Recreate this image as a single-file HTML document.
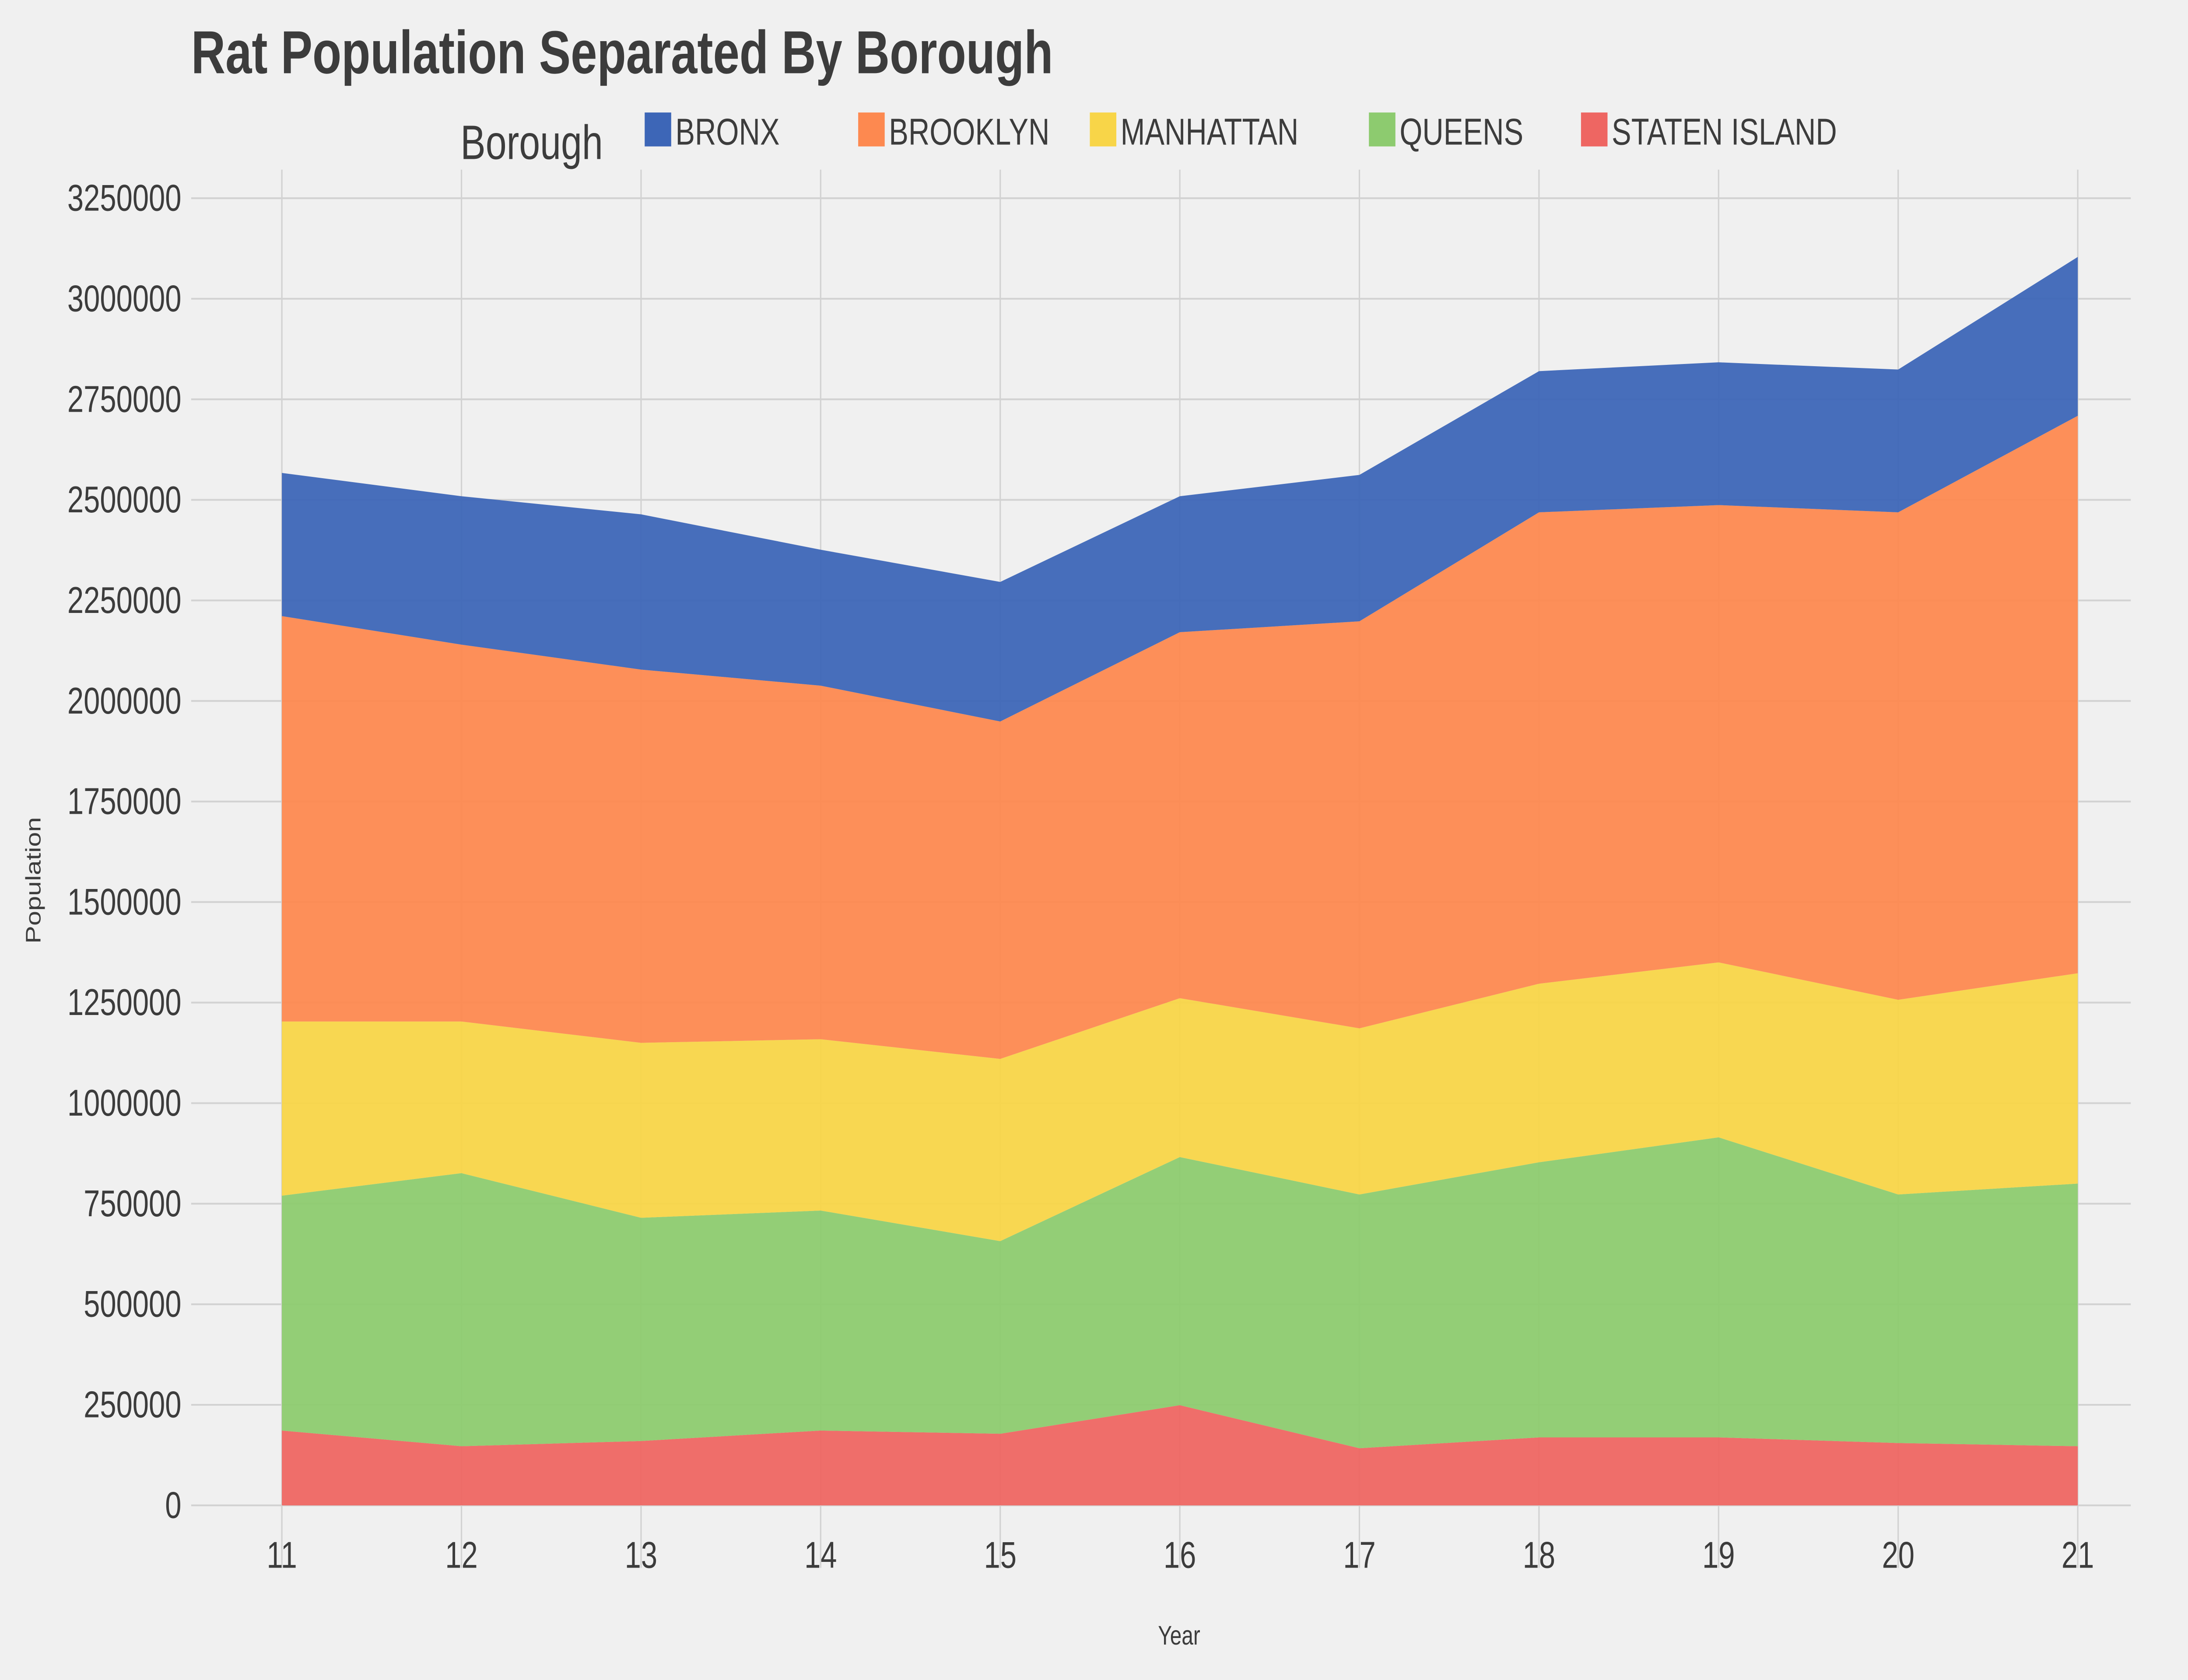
<!DOCTYPE html>
<html><head><meta charset="utf-8"><style>
html,body{margin:0;padding:0;background:#f0f0f0;width:100%;height:100%;overflow:hidden;}
svg{display:block;font-family:"Liberation Sans",Arial,sans-serif;width:100vw;height:100vh;}
</style></head><body>
<svg id="chart" viewBox="0 0 1568 940.8" preserveAspectRatio="none" xmlns="http://www.w3.org/2000/svg">
<rect x="0" y="0" width="1568" height="940.8" fill="#f0f0f0"/>
<text x="137" y="41" font-size="34" font-weight="bold" fill="#3c3c3c">Rat Population Separated By Borough</text>
<g id="legend">
<text x="330" y="89" font-size="27" fill="#3c3c3c">Borough</text>
</g>
<g id="grid"></g>
<g id="areas"></g>
<g id="axes"></g>
<text x="845" y="921" font-size="15" fill="#3c3c3c" text-anchor="middle">Year</text>
<text transform="translate(29,493) rotate(-90)" font-size="15" fill="#3c3c3c" text-anchor="middle">Population</text>
</svg>
<script>
const years = [11,12,13,14,15,16,17,18,19,20,21];
const statenIsland = [186000,147000,160000,186000,178000,249000,142000,169000,169000,155000,147000];
const queens = [584000,679000,555000,547000,479000,617000,631000,684000,746000,618000,653000];
const manhattan = [433000,377000,435000,426000,453000,395000,413000,444000,435000,484000,523000];
const brooklyn = [1008000,937000,928000,879000,839000,910000,1012000,1172000,1137000,1212000,1386000];
const bronx = [356000,369000,386000,338000,347000,338000,364000,351000,355000,355000,395000];
const yTicks = [0,250000,500000,750000,1000000,1250000,1500000,1750000,2000000,2250000,2500000,2750000,3000000,3250000];
const seriesNames = ["STATEN ISLAND","QUEENS","MANHATTAN","BROOKLYN","BRONX"];
const legendOrder = ["BRONX","BROOKLYN","MANHATTAN","QUEENS","STATEN ISLAND"];

const NS="http://www.w3.org/2000/svg";
const colors={"BRONX":"#3d66b7","BROOKLYN":"#fd8950","MANHATTAN":"#f8d548","QUEENS":"#8dcb6f","STATEN ISLAND":"#ee6662"};
const series={"STATEN ISLAND":statenIsland,"QUEENS":queens,"MANHATTAN":manhattan,"BROOKLYN":brooklyn,"BRONX":bronx};
const x=v=>202+(v-11)*(1489-202)/10;
const y=v=>843-v*(843-111)/3250000;
function mk(tag,attrs,parent){const e=document.createElementNS(NS,tag);for(const k in attrs)e.setAttribute(k,attrs[k]);parent.appendChild(e);return e;}

const grid=document.getElementById('grid'),axes=document.getElementById('axes'),areas=document.getElementById('areas'),legend=document.getElementById('legend');
yTicks.forEach(t=>{
  const l=mk('line',{x1:137,x2:1527,y1:y(t),y2:y(t),stroke:"#d2d2d2","stroke-width":1},grid);
  
  
  const tx=mk('text',{x:130,y:y(t)+7,"font-size":21,fill:"#3c3c3c","text-anchor":"end"},axes);
  tx.textContent=t;
  
  
});
years.forEach(v=>{
  const l=mk('line',{x1:x(v),x2:x(v),y1:95,y2:878,stroke:"#d2d2d2","stroke-width":1},grid);
  
  
  const tx=mk('text',{x:x(v),y:878,"font-size":21,fill:"#3c3c3c","text-anchor":"middle"},axes);
  tx.textContent=v;
  
  
});
let base=years.map(()=>0);
seriesNames.forEach(name=>{
  const vals=series[name];
  const top=base.map((b,i)=>b+vals[i]);
  let d="M"+years.map((yr,i)=>x(yr)+","+y(top[i])).join(" L");
  for(let i=years.length-1;i>=0;i--)d+=" L"+x(years[i])+","+y(base[i]);
  d+=" Z";
  const p=mk('path',{d:d,fill:colors[name],"fill-opacity":0.95},areas);
  
  
  base=top;
});
const legX=[462,615,781,981,1133];
legendOrder.forEach((name,i)=>{
  const r=mk('rect',{x:legX[i],y:63,width:19,height:19,fill:colors[name]},legend);
  
  
  const t=mk('text',{x:legX[i]+22,y:81,"font-size":21,fill:"#3c3c3c"},legend);
  t.textContent=name;
  
  
});
</script>
</body></html>
